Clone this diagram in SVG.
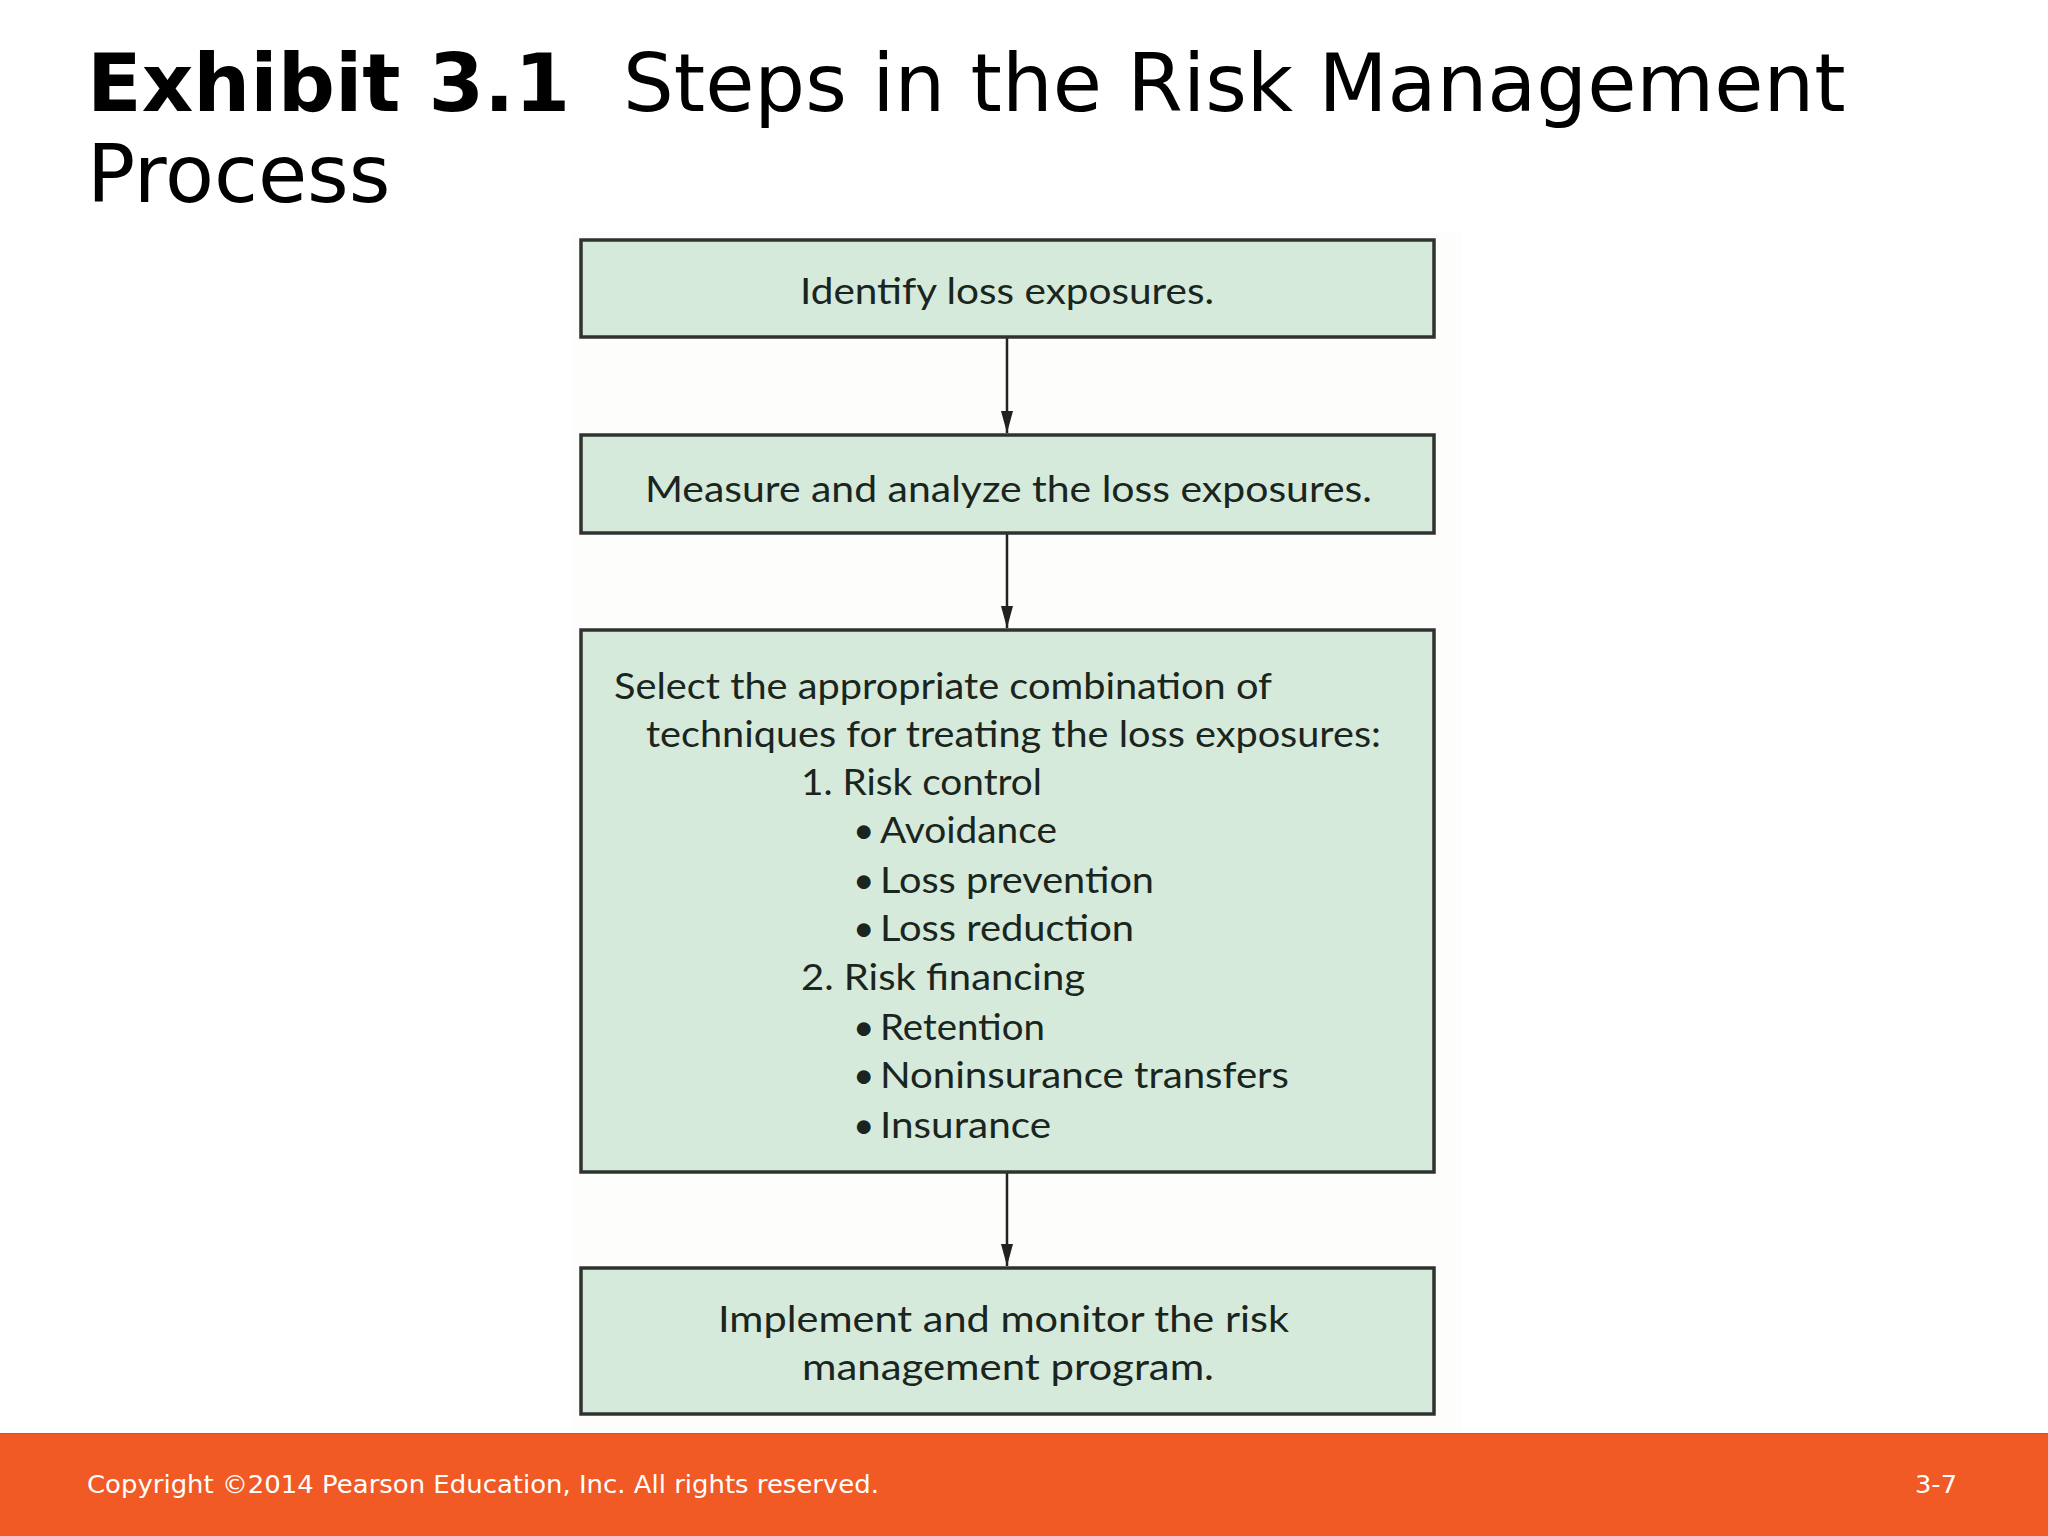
<svg xmlns="http://www.w3.org/2000/svg" width="2048" height="1536" viewBox="0 0 2048 1536">
  <defs>
    <style>
      .title { font-family: "DejaVu Sans", Verdana, sans-serif; font-size: 80px; fill: #000; }
      .bold { font-weight: bold; }
      .box { fill: #d6eadb; stroke: #2f3330; stroke-width: 3.5; }
      .t { font-family: Lato, "Open Sans", sans-serif; font-size: 37px; fill: #1b2520; }
      .conn { stroke: #222; stroke-width: 2.5; fill: none; }
      .foot { font-family: "DejaVu Sans", Verdana, sans-serif; font-size: 25px; fill: #fff; }
    </style>
    <marker id="arrDown" viewBox="0 0 12 22" refX="6" refY="22" markerWidth="12" markerHeight="22" markerUnits="userSpaceOnUse" orient="0">
      <path d="M0,0 L12,0 L6,22 z" fill="#222"/>
    </marker>
  </defs>

  <rect width="2048" height="1536" fill="#ffffff"/>
  <rect x="572" y="232" width="890" height="1200" fill="#fdfdfc"/>

  <g id="title">
    <text class="title bold" x="87" y="111">Exhibit 3.1</text>
    <text class="title" x="623" y="111">Steps in the Risk Management</text>
    <text class="title" x="87" y="202">Process</text>
  </g>

  <g id="connectors">
    <line class="conn" x1="1007" y1="337" x2="1007" y2="433" marker-end="url(#arrDown)"/>
    <line class="conn" x1="1007" y1="533" x2="1007" y2="628" marker-end="url(#arrDown)"/>
    <line class="conn" x1="1007" y1="1172" x2="1007" y2="1266" marker-end="url(#arrDown)"/>
  </g>

  <g id="node-identify">
    <rect class="box" x="581" y="240" width="853" height="97"/>
    <text class="t" x="800" y="304" textLength="414" lengthAdjust="spacingAndGlyphs">Identify loss exposures.</text>
  </g>

  <g id="node-measure">
    <rect class="box" x="581" y="435" width="853" height="98"/>
    <text class="t" x="645" y="502" textLength="727" lengthAdjust="spacingAndGlyphs">Measure and analyze the loss exposures.</text>
  </g>

  <g id="node-select">
    <rect class="box" x="581" y="630" width="853" height="542"/>
    <text class="t" x="614" y="699" textLength="658" lengthAdjust="spacingAndGlyphs">Select the appropriate combination of</text>
    <text class="t" x="646" y="747" textLength="735" lengthAdjust="spacingAndGlyphs">techniques for treating the loss exposures:</text>
    <text class="t" x="801" y="795" textLength="241" lengthAdjust="spacingAndGlyphs">1. Risk control</text>
    <text class="t" x="853" y="843">•</text>
    <text class="t" x="880" y="843" textLength="177" lengthAdjust="spacingAndGlyphs">Avoidance</text>
    <text class="t" x="853" y="893">•</text>
    <text class="t" x="880" y="893" textLength="274" lengthAdjust="spacingAndGlyphs">Loss prevention</text>
    <text class="t" x="853" y="941">•</text>
    <text class="t" x="880" y="941" textLength="254" lengthAdjust="spacingAndGlyphs">Loss reduction</text>
    <text class="t" x="801" y="990" textLength="284" lengthAdjust="spacingAndGlyphs">2. Risk financing</text>
    <text class="t" x="853" y="1040">•</text>
    <text class="t" x="880" y="1040" textLength="165" lengthAdjust="spacingAndGlyphs">Retention</text>
    <text class="t" x="853" y="1088">•</text>
    <text class="t" x="880" y="1088" textLength="409" lengthAdjust="spacingAndGlyphs">Noninsurance transfers</text>
    <text class="t" x="853" y="1138">•</text>
    <text class="t" x="880" y="1138" textLength="171" lengthAdjust="spacingAndGlyphs">Insurance</text>
  </g>

  <g id="node-implement">
    <rect class="box" x="581" y="1268" width="853" height="146"/>
    <text class="t" x="718" y="1332" textLength="571" lengthAdjust="spacingAndGlyphs">Implement and monitor the risk</text>
    <text class="t" x="802" y="1380" textLength="412" lengthAdjust="spacingAndGlyphs">management program.</text>
  </g>

  <g id="footer">
    <rect x="0" y="1433" width="2048" height="103" fill="#f15a24"/>
    <line x1="0" y1="1433.5" x2="2048" y2="1433.5" stroke="#d9501f" stroke-width="1"/>
    <text class="foot" x="87" y="1493" textLength="792" lengthAdjust="spacingAndGlyphs">Copyright ©2014 Pearson Education, Inc. All rights reserved.</text>
    <text class="foot" x="1915" y="1493" textLength="42" lengthAdjust="spacingAndGlyphs">3-7</text>
  </g>
</svg>
